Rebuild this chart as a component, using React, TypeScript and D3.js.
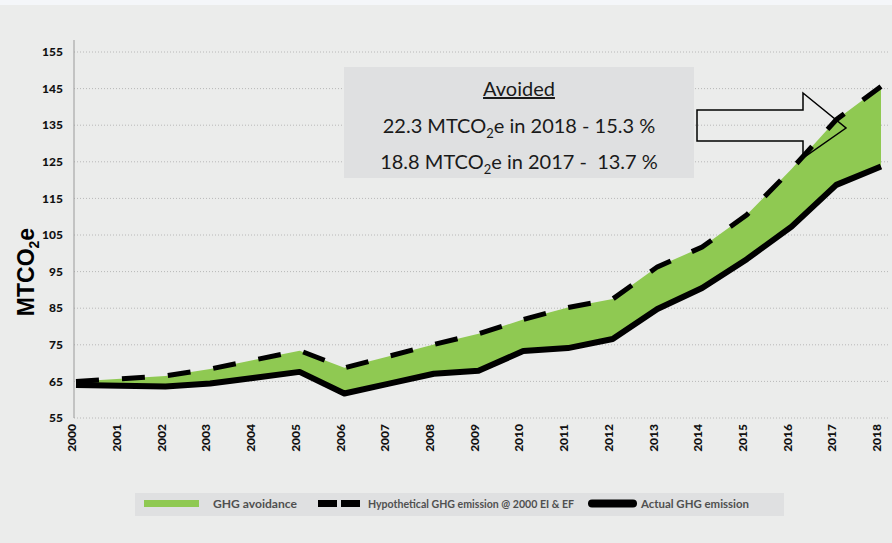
import React, { useEffect, useRef } from 'react'
import * as d3 from 'd3'

const years = [2000, 2001, 2002, 2003, 2004, 2005, 2006, 2007, 2008, 2009, 2010, 2011, 2012, 2013, 2014, 2015, 2016, 2017, 2018]
const hypothetical = [65.0, 65.7, 66.5, 68.4, 70.9, 73.4, 68.7, 71.9, 75.1, 78.0, 81.9, 85.2, 87.5, 96.3, 101.7, 110.5, 123.0, 136.5, 145.6]
const actual = [64.0, 63.8, 63.6, 64.4, 66.0, 67.6, 61.7, 64.4, 67.1, 67.9, 73.3, 74.1, 76.6, 84.8, 90.5, 98.4, 107.3, 118.7, 123.7]
const yTicks = [55, 65, 75, 85, 95, 105, 115, 125, 135, 145, 155]
const legendLabels = ['GHG avoidance', 'Hypothetical GHG emission @ 2000 EI & EF', 'Actual GHG emission']
const noteLines = [
  ['22.3 MTCO', '2', 'e in 2018 - 15.3 %'],
  ['18.8 MTCO', '2', 'e in 2017 -  13.7 %'],
]

const W = 892
const H = 543

export default function App() {
  const ref = useRef<SVGSVGElement>(null)

  useEffect(() => {
    const svg = d3.select(ref.current)
    svg.selectAll('*').remove()

    const x = d3.scaleLinear().domain([2000, 2018]).range([76, 881])
    const y = d3.scaleLinear().domain([55, 155]).range([418, 52])

    // background
    svg.append('rect').attr('width', W).attr('height', H).attr('fill', '#f4f6f9')
    svg.append('rect').attr('y', 5).attr('width', W).attr('height', H - 5).attr('fill', '#ebeceb')

    // grid
    svg.append('g').selectAll('line').data(yTicks).enter().append('line')
      .attr('x1', 74).attr('x2', 890)
      .attr('y1', d => y(d)).attr('y2', d => y(d))
      .attr('stroke', '#b8b8b8').attr('stroke-width', 1).attr('stroke-dasharray', '1 2')

    svg.append('line').attr('x1', 74).attr('x2', 74).attr('y1', 40).attr('y2', y(55))
      .attr('stroke', '#9a9a9a').attr('stroke-width', 1)

    svg.append('g').selectAll('text').data(yTicks).enter().append('text')
      .attr('x', 63).attr('y', d => y(d)).attr('dy', '0.35em')
      .attr('text-anchor', 'end')
      .attr('font-family', 'Lato, sans-serif').attr('font-weight', 900).attr('font-size', 12)
      .attr('fill', '#111')
      .text(d => d)

    svg.append('g').selectAll('text').data(years).enter().append('text')
      .attr('transform', d => `translate(${x(d) - 4},424) rotate(-90)`)
      .attr('dy', '0.35em')
      .attr('text-anchor', 'end')
      .attr('font-family', 'Lato, sans-serif').attr('font-weight', 900).attr('font-size', 12)
      .attr('fill', '#111')
      .text(d => d)

    // y title
    const yt = svg.append('text')
      .attr('transform', 'translate(34,272) rotate(-90)')
      .attr('text-anchor', 'middle')
      .attr('font-family', 'Liberation Sans, Arial, sans-serif').attr('font-weight', 'bold').attr('font-size', 23)
      .attr('fill', '#000')
    yt.append('tspan').text('MTCO')
    yt.append('tspan').attr('font-size', 14).attr('dy', 5).text('2')
    yt.append('tspan').attr('dy', -5).text('e')

    // area between
    const idx = d3.range(years.length)
    const area = d3.area<number>()
      .x(i => x(years[i]))
      .y0(i => y(actual[i]))
      .y1(i => y(hypothetical[i]))
    svg.append('path').datum(idx).attr('d', area).attr('fill', '#8fc952')

    const line = (vals: number[]) => d3.line<number>().x(i => x(years[i])).y(i => y(vals[i]))(idx)

    svg.append('path').attr('d', line(actual)).attr('fill', 'none')
      .attr('stroke', '#000').attr('stroke-width', 6).attr('stroke-linejoin', 'round')

    svg.append('path').attr('d', line(hypothetical)).attr('fill', 'none')
      .attr('stroke', '#000').attr('stroke-width', 5).attr('stroke-dasharray', '23 23')

    // note box
    svg.append('rect').attr('x', 344).attr('y', 67).attr('width', 350).attr('height', 111).attr('fill', '#dfe0e1')
    svg.append('text').attr('x', 519).attr('y', 96).attr('text-anchor', 'middle')
      .attr('font-family', 'Lato, sans-serif').attr('font-size', 20).attr('fill', '#1a1a1a')
      .attr('text-decoration', 'underline')
      .text('Avoided')
    noteLines.forEach((parts, i) => {
      const t = svg.append('text').attr('x', 519).attr('y', 133 + i * 36).attr('text-anchor', 'middle')
        .attr('font-family', 'Lato, sans-serif').attr('font-size', 20).attr('fill', '#1a1a1a')
        .attr('xml:space', 'preserve')
      t.append('tspan').text(parts[0])
      t.append('tspan').attr('font-size', 13).attr('dy', 5).text(parts[1])
      t.append('tspan').attr('dy', -5).text(parts[2])
    })

    // arrow
    svg.append('path')
      .attr('d', 'M697,110 L803,110 L803,93 L846,128 L803,158 L803,141 L697,141 Z')
      .attr('fill', 'none').attr('stroke', '#000').attr('stroke-width', 1.5)

    // legend
    svg.append('rect').attr('x', 135).attr('y', 493).attr('width', 649).attr('height', 23).attr('fill', '#dfe0e1')
    svg.append('rect').attr('x', 144).attr('y', 500).attr('width', 55).attr('height', 7).attr('fill', '#8fc952')
    svg.append('line').attr('x1', 318).attr('x2', 360).attr('y1', 503.5).attr('y2', 503.5)
      .attr('stroke', '#000').attr('stroke-width', 7).attr('stroke-dasharray', '19 4')
    svg.append('line').attr('x1', 592).attr('x2', 633).attr('y1', 503.5).attr('y2', 503.5)
      .attr('stroke', '#000').attr('stroke-width', 8).attr('stroke-linecap', 'round')
    const lx = [213, 368, 641]
    const lw = [84, 206, 108]
    svg.append('g').selectAll('text').data(legendLabels).enter().append('text')
      .attr('x', (d, i) => lx[i]).attr('y', 508)
      .attr('font-family', 'Century Gothic, Lato, sans-serif').attr('font-weight', 'bold').attr('font-size', 11)
      .attr('textLength', (d, i) => lw[i]).attr('lengthAdjust', 'spacingAndGlyphs')
      .attr('fill', '#505050')
      .text(d => d)
  }, [])

  return (
    <svg ref={ref} width={W} height={H} style={{ position: 'absolute', left: 0, top: 0 }} />
  )
}
